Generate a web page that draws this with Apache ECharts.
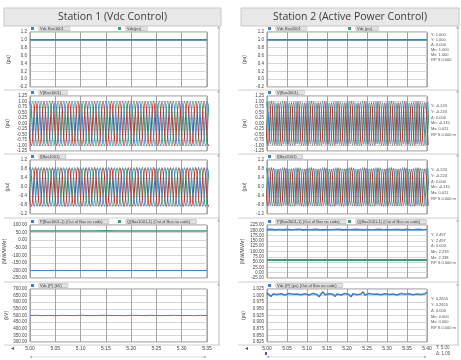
<!DOCTYPE html>
<html><head><meta charset="utf-8">
<script src="https://cdn.jsdelivr.net/npm/echarts@6.0.0/dist/echarts.min.js"></script>
<style>html,body{margin:0;padding:0;background:#fff}#c{width:461px;height:360px}</style>
</head><body><div id="c"></div>
<script>
// ---------------- data ----------------
const panelTitles = ['Station 1 (Vdc Control)', 'Station 2 (Active Power Control)'];
const timeStart = [5.00, 5.00];
const timeEnd = [5.35, 5.40];
const timeStep = 0.05;
const halfCycle = 1 / 120;                       // 60 Hz waveform, extrema every half cycle
const phaseStart = [4.99167, 4.99722, 4.99444];  // time of first extremum, phases a,b,c

// Row 1: DC voltage (pu)
const vdcPuL = [1, 1, 1, 1, 1, 1, 1, 1];
const vdcRefL = [1, 1, 1, 1, 1, 1, 1, 1];
const vdcPuR = [1, 1, 1, 1, 1, 1, 1, 1, 1];
const vdcRefR = [1, 1, 1, 1, 1, 1, 1, 1, 1];

// Row 2: AC voltage, successive extrema of each phase
const vaL = [-1,1,-.99,1,-1,.99,-1,1,-1,1,-.99,1,-1,1,-1,.99,-1,1,-1,1,-.99,1,-1,1,-1,.99,-1,1,-1,1,-1,.99,-1,1,-.99,1,-1,1,-1,.99,-1,1,-1,1,-1];
const vbL = [-1,.99,-1,1,-1,1,-.99,1,-1,.99,-1,1,-1,1,-.99,1,-1,1,-1,.99,-1,1,-.99,1,-1,1,-1,.99,-1,1,-1,1,-.99,1,-1,.99,-1,1,-1,1,-.99,1,-1,1,-1];
const vcL = [1,-1,.99,-1,1,-1,1,-.99,1,-1,.99,-1,1,-1,1,-1,.99,-1,1,-1,1,-.99,1,-1,1,-1,.99,-1,1,-1,1,-1,.99,-1,1,-.99,1,-1,1,-1,.99,-1,1,-1,1];
const vaR = [-1,.97,-.94,.99,-1,.95,-.93,.98,-1,.96,-.93,.99,-1,.97,-.94,.98,-1,.95,-.93,.99,-1,.96,-.94,.98,-1,.97,-.93,.99,-1,.95,-.94,.98,-1,.96,-.93,.99,-1,.97,-.94,.98,-1,.95,-.93,.99,-1,.96,-.94,.98,-1,.97];
const vbR = [-.95,1,-.97,.93,-.99,1,-.96,.94,-.98,1,-.95,.93,-.99,1,-.97,.94,-.98,1,-.96,.93,-.99,1,-.95,.94,-.98,1,-.97,.93,-.99,1,-.96,.94,-.98,1,-.95,.93,-.99,1,-.97,.94,-.98,1,-.96,.93,-.99,1,-.95,.94,-.98,1];
const vcR = [.94,-.98,1,-.96,.93,-.99,1,-.95,.94,-.98,1,-.97,.93,-.99,1,-.96,.94,-.98,1,-.95,.93,-.99,1,-.97,.94,-.98,1,-.96,.93,-.99,1,-.95,.94,-.98,1,-.97,.93,-.99,1,-.96,.94,-.98,1,-.95,.93,-.99,1,-.97,.94,-.98];

// Row 3: AC current, successive extrema of each phase
const iaL = [-.85,.86,-.85,.85,-.86,.85,-.85,.86,-.85,.85,-.86,.85,-.85,.85,-.85,.86,-.85,.85,-.86,.85,-.85,.85,-.86,.85,-.85,.86,-.85,.85,-.85,.86,-.85,.85,-.85,.86,-.85,.85,-.86,.85,-.85,.85,-.85,.86,-.85,.85,-.86];
const ibL = [-.86,.85,-.85,.86,-.85,.85,-.85,.86,-.86,.85,-.85,.85,-.86,.85,-.85,.86,-.85,.85,-.85,.86,-.86,.85,-.85,.85,-.86,.85,-.85,.86,-.85,.85,-.86,.85,-.85,.85,-.86,.86,-.85,.85,-.85,.86,-.85,.85,-.86,.85,-.85];
const icL = [.85,-.85,.86,-.85,.85,-.86,.85,-.85,.85,-.86,.85,-.85,.86,-.85,.85,-.85,.86,-.85,.85,-.86,.85,-.85,.85,-.86,.85,-.85,.86,-.85,.85,-.85,.86,-.85,.85,-.86,.85,-.85,.85,-.86,.85,-.85,.86,-.85,.85,-.85,.86];
const iaR = [-.85,.83,-.8,.84,-.85,.81,-.79,.83,-.85,.82,-.79,.84,-.85,.83,-.8,.83,-.85,.81,-.79,.84,-.85,.82,-.8,.83,-.85,.83,-.79,.84,-.85,.81,-.8,.83,-.85,.82,-.79,.84,-.85,.83,-.8,.83,-.85,.81,-.79,.84,-.85,.82,-.8,.83,-.85,.83];
const ibR = [-.81,.85,-.83,.79,-.84,.85,-.82,.8,-.83,.85,-.81,.79,-.84,.85,-.83,.8,-.83,.85,-.82,.79,-.84,.85,-.81,.8,-.83,.85,-.83,.79,-.84,.85,-.82,.8,-.83,.85,-.81,.79,-.84,.85,-.83,.8,-.83,.85,-.82,.79,-.84,.85,-.81,.8,-.83,.85];
const icR = [.8,-.83,.85,-.82,.79,-.84,.85,-.81,.8,-.83,.85,-.83,.79,-.84,.85,-.82,.8,-.83,.85,-.81,.79,-.84,.85,-.83,.8,-.83,.85,-.82,.79,-.84,.85,-.81,.8,-.83,.85,-.83,.79,-.84,.85,-.82,.8,-.83,.85,-.81,.79,-.84,.85,-.83,.8,-.83];

// Row 4: P and Q (MW / MVAr)
const pL = [-200,-200.5,-199.8,-200.2,-200,-199.6,-200.3,-200,-200.1,-199.9,-200.4,-200,-199.7,-200.2,-200];
const qL = [61,60.5,61.2,60.8,61,60.6,61.3,60.9,61,60.7,61.1,60.8,61.2,60.9,61];
const pR = [203,204.5,202,203.8,201.9,204.2,202.6,203.5,204.6,202.1,203.9,202.4,204.3,203,201.8,204.1,202.7,203.6,204.4,202.2,203.7,202.5,204.2,203.1,201.9,204,202.8,203.4,204.5,202.3,203.8,202.6,204.1,203.2,202,204.3,202.9,203.3,204.4,202.4,203.6];
const qR = [60,60.3,59.8,60.1,60,59.9,60.2,60,60.1];

// Row 5: DC voltage
const vdcKvL = [500,501.5,499,500.8,498.9,501.2,500,499.4,501.6,500.3,499,500.9,501.4,499.6,500.2,498.8,501,500.5,499.3,501.3,500,499.1,500.7,501.5,499.5,500.1,498.9,500.8,500.2];
const vdcPu5R = [1.010,1.003,0.997,1.006,1.013,1.004,0.998,1.007,1.011,1.002,
  0.996,1.008,1.014,1.005,0.999,1.006,1.012,1.003,0.997,1.007,
  1.013,1.002,0.998,1.008,1.011,1.004,0.996,1.006,1.014,1.003,
  0.999,1.007,1.012,1.005,0.997,1.006,1.010,1.002,0.998,1.008,
  1.013,1.004,0.996,1.007,1.011,1.003,0.999,1.006,1.014,1.002,
  0.997,1.008,1.012,1.005,0.998,1.006,1.011,1.003,0.996,1.007,
  1.013,1.004,0.999,1.006,1.012,1.002,0.997,1.008,1.010,1.005,
  0.998,1.007,1.014,1.003,0.996,1.006,1.011,1.004,0.999,1.007,1.012];

// Y axis ranges [min, max, interval, decimals, name] per row, per column
const yAxesL = [[-0.2,1.2,0.2,1,'(pu)'],[-1.25,1.25,0.25,2,'(pu)'],[-1.2,1.2,0.4,1,'(pu)'],[-250,100,50,2,'(MW/MVAr)'],[300,700,50,2,'(kV)']];
const yAxesR = [[-0.2,1.2,0.2,1,'(pu)'],[-1.25,1.25,0.25,2,'(pu)'],[-1.2,1.2,0.4,1,'(pu)'],[-25,225,25,2,'(MW/MVAr)'],[0.825,1.025,0.025,3,'(pu)']];

// legend labels per row: [left column items, right column items]
const legendL = [['Vdc Bus1001','Vdc(pu)'],['V(Bus1001)'],['I(Bus1001)'],['P(Bus1001-1) (Out of Bus no code)','Q(Bus1001-1) (Out of Bus no code)'],['Vdc (P) (kV)']];
const legendR = [['Vdc Bus2001','Vdc (pu)'],['V(Bus2001)'],['I(Bus2001)'],['P(Bus2001-1) (Out of Bus no code)','Q(Bus2001-1) (Out of Bus no code)'],['Vdc (P) (pu) (Out of Bus no code)']];

// cursor read-outs of the right column
const readouts = [
  ['Y: 1.000','Y: 1.000','Δ: 0.000','Mn: 1.000','Mx: 1.000','RP S 0.000'],
  ['Y: -0.243','Y: -0.243','Δ: 0.000','Mn: -0.115','Mx: 0.011','RP S 0.000 m'],
  ['Y: -0.224','Y: -0.224','Δ: 0.000','Mn: -0.115','Mx: 0.011','RP S 0.000 m'],
  ['Y: 2.497','Y: 2.497','Δ: 0.000','Mn: 2.239','Mx: 2.238','RP S 0.000 m'],
  ['Y: 0.2655','Y: 0.2655','Δ: 0.000','Mn: 0.000','Mx: 0.000','RP S 0.000 m']
];
const bottomReadout = ['T: 5.00', 'Δ: 1.00'];

// ---------------- layout / style ----------------
const BLUE = '#3f7fcc', GREEN = '#3a9e80', RED = '#c2332d';
const colLeft = [30, 267], colWidth = [177, 160];
const rowTop = [32, 96, 160, 225, 289], rowH = [55, 55, 54, 53, 53];
const nameGaps = [[19,20,20,23,20],[20,20,20,22,21]];
const FONT = 'Liberation Sans, DejaVu Sans, sans-serif';

const grids = [], xAxes = [], yAxes = [], series = [], legends = [], graphics = [];

function wave(vals, start) { return vals.map((v, i) => [start + i * halfCycle, v]); }
function sampled(vals, start, dt) { return vals.map((v, i) => [start + i * dt, v]); }

for (let c = 0; c < 2; c++) {
  const yDefs = c === 0 ? yAxesL : yAxesR;
  for (let r = 0; r < 5; r++) {
    const gi = grids.length;
    grids.push({left: colLeft[c], width: colWidth[c], top: rowTop[r], height: rowH[r],
      show: true, backgroundColor: '#fff', borderColor: '#8e8e8e', borderWidth: 1});
    xAxes.push({type: 'value', gridIndex: gi, min: timeStart[c], max: timeEnd[c], interval: timeStep,
      axisLine: {show: false}, axisTick: {show: false},
      axisLabel: {show: r === 4, fontSize: 5, color: '#444', margin: 4, fontFamily: FONT,
        formatter: v => v.toFixed(2)},
      splitLine: {show: true, lineStyle: {color: '#a4a4a4', width: 1}}});
    const yd = yDefs[r];
    yAxes.push({type: 'value', gridIndex: gi, min: yd[0], max: yd[1], interval: yd[2],
      name: yd[4], nameLocation: 'middle', nameRotate: 90, nameGap: nameGaps[c][r],
      nameTextStyle: {fontSize: 5, color: '#444', fontFamily: FONT},
      axisLine: {show: false}, axisTick: {show: false},
      axisLabel: {fontSize: 4.5, color: '#444', margin: 3, fontFamily: FONT,
        formatter: v => v.toFixed(yd[3])},
      splitLine: {show: true, lineStyle: {color: '#d6d6d6', width: 1}}});
  }
}

function line(name, gi, data, color, width, smooth) {
  series.push({name, type: 'line', xAxisIndex: gi, yAxisIndex: gi, data, showSymbol: false,
    smooth: smooth ? 0.5 : false, clip: true, animation: false,
    lineStyle: {color, width}, itemStyle: {color}});
}

// left column
line(legendL[0][1], 0, sampled(vdcRefL, timeStart[0], timeStep), GREEN, 1.5);
line(legendL[0][0], 0, sampled(vdcPuL, timeStart[0], timeStep), BLUE, 1.5);
line(legendL[1][0], 1, wave(vaL, phaseStart[0]), BLUE, 1.1, true);
line('Vb L', 1, wave(vbL, phaseStart[1]), GREEN, 1.1, true);
line('Vc L', 1, wave(vcL, phaseStart[2]), RED, 1.1, true);
line(legendL[2][0], 2, wave(iaL, phaseStart[0]), BLUE, 1.1, true);
line('Ib L', 2, wave(ibL, phaseStart[1]), GREEN, 1.1, true);
line('Ic L', 2, wave(icL, phaseStart[2]), RED, 1.1, true);
line(legendL[3][0], 3, sampled(pL, timeStart[0], 0.025), BLUE, 1);
line(legendL[3][1], 3, sampled(qL, timeStart[0], 0.025), GREEN, 1.5);
line(legendL[4][0], 4, sampled(vdcKvL, timeStart[0], 0.0125), BLUE, 1);
// right column
line(legendR[0][1], 5, sampled(vdcRefR, timeStart[1], timeStep), GREEN, 1.5);
line(legendR[0][0], 5, sampled(vdcPuR, timeStart[1], timeStep), BLUE, 1.5);
line(legendR[1][0], 6, wave(vaR, phaseStart[0]), BLUE, 1.1, true);
line('Vb R', 6, wave(vbR, phaseStart[1]), GREEN, 1.1, true);
line('Vc R', 6, wave(vcR, phaseStart[2]), RED, 1.1, true);
line(legendR[2][0], 7, wave(iaR, phaseStart[0]), BLUE, 1.1, true);
line('Ib R', 7, wave(ibR, phaseStart[1]), GREEN, 1.1, true);
line('Ic R', 7, wave(icR, phaseStart[2]), RED, 1.1, true);
line(legendR[3][0], 8, sampled(pR, timeStart[1], 0.01), BLUE, 1.6);
line(legendR[3][1], 8, sampled(qR, timeStart[1], timeStep), GREEN, 2);
line(legendR[4][0], 9, sampled(vdcPu5R, timeStart[1], 0.005), BLUE, 1.6);

// legends
const secondItemX = [[118, 118], [348, 348]];
[legendL, legendR].forEach((lg, c) => {
  lg.forEach((items, r) => {
    items.forEach((nm, k) => {
      legends.push({data: [nm], left: k === 0 ? colLeft[c] + 1 : secondItemX[c][r === 0 ? 0 : 1],
        top: rowTop[r] - 6, icon: 'rect', itemWidth: 3, itemHeight: 3, itemGap: 2, padding: 0,
        selectedMode: false,
        textStyle: {fontSize: 4, color: '#333', fontFamily: FONT, backgroundColor: '#e2e2e2',
          padding: [0, 6, 0, 1], borderColor: '#b5b5b5', borderWidth: 0.5}});
    });
  });
});

// title bars
const titleBars = [[4, 217], [241, 218]];
titleBars.forEach((b, c) => {
  graphics.push({type: 'rect', shape: {x: b[0], y: 8, width: b[1], height: 18},
    style: {fill: '#e8e8e8', stroke: '#c9c9c9', lineWidth: 1}, z: 0});
  graphics.push({type: 'text', x: b[0] + b[1] / 2, y: 17,
    style: {text: panelTitles[c], fill: '#3c3c3c', font: '10.5px "Open Sans", sans-serif',
      textAlign: 'center', textVerticalAlign: 'middle'}});
});
// panel separators and frame lines
const colSpan = [[4, 220], [238, 459]];
const sepY = [90, 154, 218, 282, 345];
colSpan.forEach(s => {
  sepY.forEach(y => graphics.push({type: 'line', shape: {x1: s[0], y1: y, x2: s[1], y2: y},
    style: {stroke: '#cfcfcf', lineWidth: 1}}));
  graphics.push({type: 'line', shape: {x1: s[1] - 1, y1: 27, x2: s[1] - 1, y2: 345},
    style: {stroke: '#bdbdbd', lineWidth: 1}});
  rowTop.forEach(t => graphics.push({type: 'text', x: s[1] - 3, y: t - 6,
    style: {text: '˄', fill: '#888', font: '5px sans-serif'}}));
  graphics.push({type: 'text', x: s[0] + 6, y: 346, style: {text: '◄', fill: '#555', font: '5px sans-serif'}});
});
// horizontal scrollbars
[[30, 207], [267, 427]].forEach(s => {
  graphics.push({type: 'line', shape: {x1: s[0], y1: 357, x2: s[1], y2: 357}, style: {stroke: '#dcdcdc', lineWidth: 1}});
  graphics.push({type: 'text', x: s[0], y: 355, style: {text: '◂', fill: '#999', font: '4px sans-serif'}});
  graphics.push({type: 'text', x: s[1] - 3, y: 355, style: {text: '▸', fill: '#999', font: '4px sans-serif'}});
});
graphics.push({type: 'rect', shape: {x: 265, y: 352, width: 2, height: 3}, style: {fill: '#7a3fb0'}});
// read-outs of the right column
const roStart = [3, 10, 10, 10, 10], roStep = [4.9, 5.7, 5.7, 5.6, 5.8];
readouts.forEach((lines, r) => {
  lines.forEach((t, k) => graphics.push({type: 'text', x: 431, y: rowTop[r] + roStart[r] + k * roStep[r] - 2,
    style: {text: t, fill: '#555', font: '4px ' + FONT}}));
});
bottomReadout.forEach((t, k) => graphics.push({type: 'text', x: 436, y: 345 + k * 6,
  style: {text: t, fill: '#555', font: '4.5px ' + FONT}}));

const chart = echarts.init(document.getElementById('c'), null, {renderer: 'canvas'});
chart.setOption({
  animation: false,
  backgroundColor: '#fff',
  grid: grids, xAxis: xAxes, yAxis: yAxes, series: series, legend: legends, graphic: graphics
});
</script>
</body></html>
